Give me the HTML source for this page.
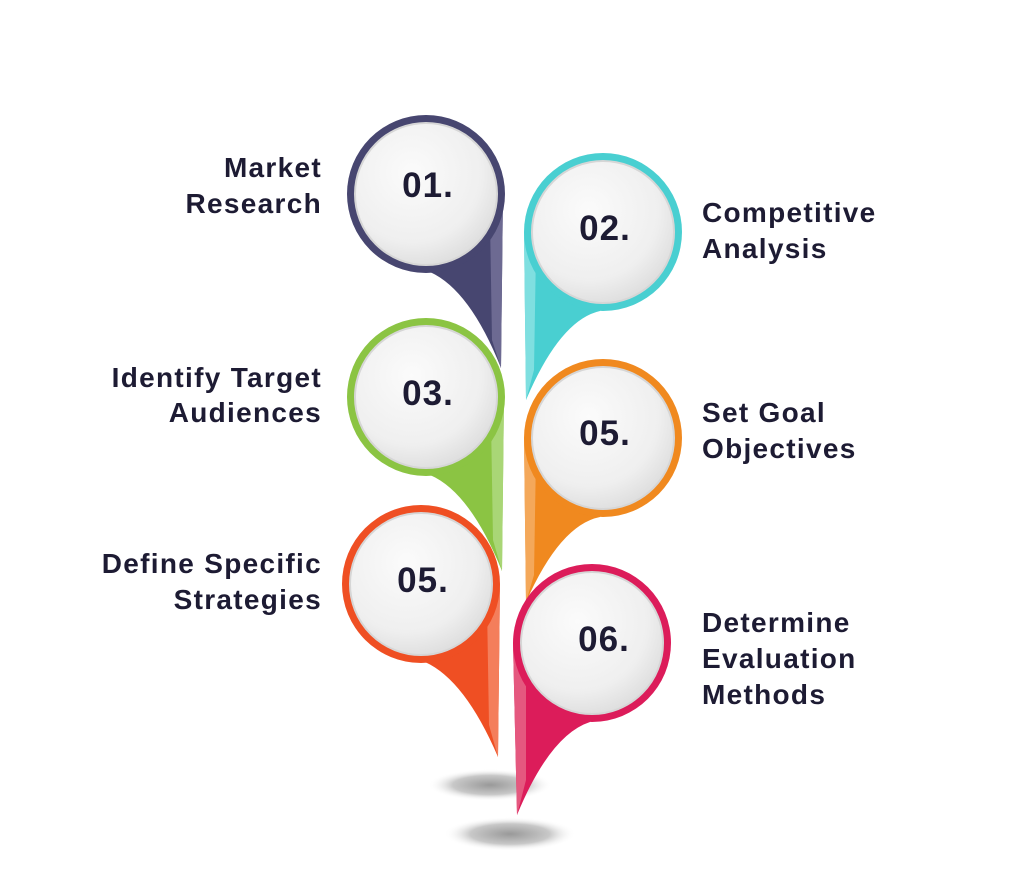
<!DOCTYPE html>
<html><head><meta charset="utf-8"><style>
html,body{margin:0;padding:0;background:#fff;}
svg{display:block}
text{font-family:"Liberation Sans",sans-serif;fill:#1d1b33;}
.lb{font-size:28px;font-weight:bold;letter-spacing:1.3px;}
.nm{font-size:35px;font-weight:bold;text-anchor:middle;letter-spacing:1px;}
</style></head><body>
<svg width="1024" height="877" viewBox="0 0 1024 877" xmlns="http://www.w3.org/2000/svg">
<defs>
<radialGradient id="wg" cx="0.4" cy="0.35" r="0.7">
<stop offset="0" stop-color="#fbfbfb"/><stop offset="0.7" stop-color="#efefef"/><stop offset="1" stop-color="#dcdcdc"/>
</radialGradient>
<radialGradient id="sh" cx="0.5" cy="0.5" r="0.5">
<stop offset="0" stop-color="#999"/><stop offset="0.6" stop-color="#c8c8c8"/><stop offset="1" stop-color="#fff" stop-opacity="0"/>
</radialGradient>
</defs>
<ellipse cx="490" cy="785" rx="62" ry="16" fill="url(#sh)"/>
<ellipse cx="510" cy="834" rx="66" ry="17" fill="url(#sh)"/>

<path d="M503,194 L501,368 Q470,290 430,272 L426,194 Z" fill="#474670"/>
<path d="M503,194 L501,368 L492,340 L490,220 Z" fill="#6d6a92"/>
<circle cx="426" cy="194" r="79" fill="#474670"/>
<circle cx="426" cy="194" r="71" fill="url(#wg)" stroke="#d6d6d6" stroke-width="2"/>
<text class="nm" x="428" y="197">01.</text>

<path d="M524,232 L526,400 Q560,320 600,311 L603,232 Z" fill="#49cfd1"/>
<path d="M524,232 L526,400 L534,370 L536,250 Z" fill="#7fdfe0"/>
<circle cx="603" cy="232" r="79" fill="#49cfd1"/>
<circle cx="603" cy="232" r="71" fill="url(#wg)" stroke="#d6d6d6" stroke-width="2"/>
<text class="nm" x="605" y="240">02.</text>

<path d="M504,397 L502,571 Q470,492 430,475 L426,397 Z" fill="#8bc443"/>
<path d="M504,397 L502,571 L493,540 L491,420 Z" fill="#a9d676"/>
<circle cx="426" cy="397" r="79" fill="#8bc443"/>
<circle cx="426" cy="397" r="71" fill="url(#wg)" stroke="#d6d6d6" stroke-width="2"/>
<text class="nm" x="428" y="405">03.</text>

<path d="M524,438 L526,602 Q560,525 600,517 L603,438 Z" fill="#f0891f"/>
<path d="M524,438 L526,602 L534,575 L536,455 Z" fill="#f4a85a"/>
<circle cx="603" cy="438" r="79" fill="#f0891f"/>
<circle cx="603" cy="438" r="71" fill="url(#wg)" stroke="#d6d6d6" stroke-width="2"/>
<text class="nm" x="605" y="445">05.</text>

<path d="M500,584 L498,757 Q465,680 425,662 L421,584 Z" fill="#ef4f23"/>
<path d="M500,584 L498,757 L489,725 L487,605 Z" fill="#f47e5b"/>
<circle cx="421" cy="584" r="79" fill="#ef4f23"/>
<circle cx="421" cy="584" r="71" fill="url(#wg)" stroke="#d6d6d6" stroke-width="2"/>
<text class="nm" x="423" y="592">05.</text>

<path d="M513,643 L517,815 Q550,735 590,722 L592,643 Z" fill="#dc1c5a"/>
<path d="M513,643 L517,815 L526,780 L526,660 Z" fill="#e5587f"/>
<circle cx="592" cy="643" r="79" fill="#dc1c5a"/>
<circle cx="592" cy="643" r="71" fill="url(#wg)" stroke="#d6d6d6" stroke-width="2"/>
<text class="nm" x="604" y="651">06.</text>

<text class="lb" x="322" y="177" text-anchor="end">Market</text>
<text class="lb" x="322" y="213" text-anchor="end">Research</text>
<text class="lb" x="702" y="222">Competitive</text>
<text class="lb" x="702" y="258">Analysis</text>
<text class="lb" x="322" y="387" text-anchor="end">Identify Target</text>
<text class="lb" x="322" y="422" text-anchor="end">Audiences</text>
<text class="lb" x="702" y="422">Set Goal</text>
<text class="lb" x="702" y="458">Objectives</text>
<text class="lb" x="322" y="573" text-anchor="end">Define Specific</text>
<text class="lb" x="322" y="609" text-anchor="end">Strategies</text>
<text class="lb" x="702" y="632">Determine</text>
<text class="lb" x="702" y="668">Evaluation</text>
<text class="lb" x="702" y="704">Methods</text>
</svg>
</body></html>
